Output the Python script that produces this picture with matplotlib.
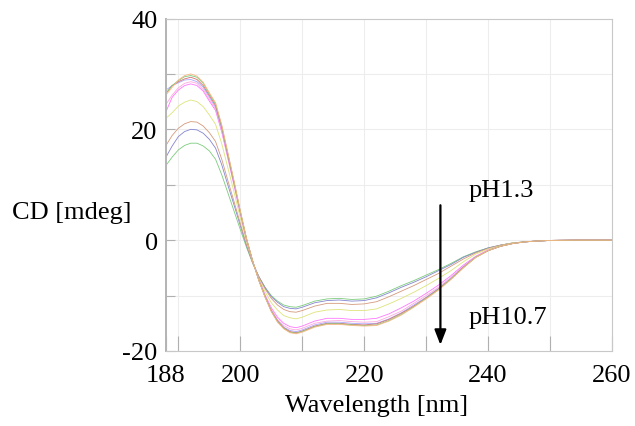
import matplotlib
matplotlib.use('Agg')
import matplotlib.pyplot as plt

plt.rcParams['font.family'] = ['Liberation Serif', 'DejaVu Serif']

# wavelength grid [nm]
wl = [188, 189, 190, 191, 192, 193, 194, 195, 196, 197, 198, 199, 200, 201, 202,
      203, 204, 205, 206, 207, 208, 209, 210, 212, 214, 216, 218, 220, 222, 224,
      226, 228, 230, 232, 234, 236, 238, 240, 242, 244, 246, 248, 250, 254, 260]

# CD [mdeg], pH 1.3 ... pH 10.7
cd_a = [13.5, 15.0, 16.3, 17.1, 17.5, 17.5, 17.0, 16.1, 14.6, 11.8, 8.5, 5.2, 1.9, -1.3, -4.2,
        -6.6, -8.5, -10.0, -11.0, -11.7, -12.0, -12.1, -11.8, -11.0, -10.6, -10.5, -10.7, -10.6, -10.1, -9.2,
        -8.2, -7.3, -6.3, -5.3, -4.2, -3.0, -2.1, -1.4, -0.9, -0.5, -0.3, -0.15, -0.05, 0.0, 0.0]
cd_b = [15.0, 17.0, 18.7, 19.6, 20.0, 19.9, 19.3, 18.2, 16.6, 13.6, 9.9, 6.3, 2.6, -1.0, -4.1,
        -6.6, -8.6, -10.2, -11.2, -12.0, -12.3, -12.4, -12.1, -11.3, -10.9, -10.8, -11.0, -10.9, -10.4, -9.5,
        -8.5, -7.6, -6.6, -5.5, -4.4, -3.1, -2.2, -1.4, -0.9, -0.5, -0.3, -0.15, -0.05, 0.0, 0.0]
cd_c = [17.1, 18.9, 20.2, 21.0, 21.4, 21.3, 20.6, 19.4, 17.8, 14.6, 10.7, 6.9, 3.0, -0.8, -4.1,
        -6.7, -8.8, -10.5, -11.7, -12.5, -12.9, -13.0, -12.7, -11.9, -11.4, -11.4, -11.6, -11.5, -11.1, -10.2,
        -9.2, -8.2, -7.1, -6.0, -4.7, -3.4, -2.3, -1.5, -0.9, -0.5, -0.3, -0.15, -0.05, 0.0, 0.0]
cd_d = [22.0, 23.0, 24.2, 24.9, 25.3, 25.0, 24.1, 22.6, 20.9, 17.4, 13.0, 8.6, 4.0, -0.3, -4.0,
        -6.9, -9.3, -11.3, -12.6, -13.6, -14.0, -14.2, -13.9, -13.0, -12.6, -12.5, -12.7, -12.7, -12.4, -11.5,
        -10.5, -9.4, -8.2, -6.9, -5.5, -3.9, -2.5, -1.6, -1.0, -0.5, -0.3, -0.15, -0.05, 0.0, 0.0]
cd_e = [23.2, 25.8, 27.1, 27.9, 28.2, 27.9, 26.9, 25.1, 23.4, 19.5, 14.7, 9.8, 4.8, 0.1, -3.9,
        -7.1, -9.9, -12.2, -13.9, -15.0, -15.6, -15.8, -15.5, -14.6, -14.1, -14.1, -14.3, -14.3, -14.1, -13.3,
        -12.2, -11.0, -9.6, -8.1, -6.4, -4.5, -2.9, -1.8, -1.1, -0.6, -0.3, -0.15, -0.05, 0.0, 0.0]
cd_f = [24.5, 26.2, 27.5, 28.3, 28.6, 28.3, 27.2, 25.4, 23.7, 19.8, 14.9, 10.0, 4.9, 0.1, -3.8,
        -7.2, -10.1, -12.5, -14.3, -15.4, -16.0, -16.2, -15.9, -15.0, -14.6, -14.5, -14.7, -14.8, -14.7, -13.8,
        -12.8, -11.4, -10.0, -8.5, -6.7, -4.7, -3.0, -1.8, -1.1, -0.6, -0.3, -0.15, -0.05, 0.0, 0.0]
cd_g = [27.1, 27.9, 28.4, 28.9, 29.0, 28.6, 27.6, 25.8, 24.0, 20.1, 15.1, 10.2, 5.0, 0.2, -3.8,
        -7.2, -10.2, -12.7, -14.5, -15.7, -16.3, -16.5, -16.2, -15.3, -14.8, -14.8, -15.0, -15.1, -15.0, -14.2,
        -13.1, -11.7, -10.3, -8.7, -6.9, -4.8, -3.0, -1.9, -1.1, -0.6, -0.3, -0.15, -0.05, 0.0, 0.0]
cd_h = [26.5, 27.9, 28.6, 29.1, 29.4, 29.0, 27.9, 26.1, 24.3, 20.4, 15.3, 10.3, 5.1, 0.2, -3.8,
        -7.3, -10.2, -12.8, -14.6, -15.8, -16.5, -16.7, -16.4, -15.5, -15.0, -15.0, -15.2, -15.3, -15.1, -14.3,
        -13.2, -11.9, -10.4, -8.8, -7.0, -4.9, -3.1, -1.9, -1.1, -0.6, -0.3, -0.15, -0.05, 0.0, 0.0]
cd_i = [26.5, 27.9, 28.8, 29.5, 29.7, 29.4, 28.3, 26.4, 24.6, 20.6, 15.6, 10.5, 5.2, 0.3, -3.8,
        -7.3, -10.3, -12.8, -14.7, -15.9, -16.6, -16.8, -16.5, -15.6, -15.1, -15.1, -15.3, -15.4, -15.3, -14.5,
        -13.4, -12.0, -10.5, -8.9, -7.0, -5.0, -3.1, -1.9, -1.1, -0.6, -0.3, -0.15, -0.05, 0.0, 0.0]
cd_j = [26.2, 27.6, 28.9, 29.7, 30.0, 29.6, 28.5, 26.6, 24.8, 20.8, 15.7, 10.6, 5.3, 0.3, -3.8,
        -7.3, -10.3, -12.9, -14.8, -16.0, -16.7, -16.9, -16.6, -15.7, -15.2, -15.2, -15.4, -15.5, -15.4, -14.6,
        -13.5, -12.1, -10.6, -9.0, -7.1, -5.0, -3.1, -1.9, -1.1, -0.6, -0.3, -0.15, -0.05, 0.0, 0.0]

series = [cd_a, cd_b, cd_c, cd_d, cd_e, cd_f, cd_g, cd_h, cd_i, cd_j]
colors = ['#7ccc7c', '#8585d0', '#d49a7c', '#dde47a', '#ff77ff',
          '#ffaadd', '#a8a8ff', '#d87070', '#77cc77', '#ffb482']

xticks = [188, 190, 200, 210, 220, 230, 240, 250, 260]
xticklabels = ['188', '', '200', '', '220', '', '240', '', '260']
yticks = [-20, -10, 0, 10, 20, 30, 40]
yticklabels = ['-20', '', '0', '', '20', '', '40']

fig = plt.figure(figsize=(6.35, 4.27), dpi=100)
ax = fig.add_axes([166 / 635, 1 - 352 / 427, (612 - 166) / 635, (352 - 19.5) / 427])

for ys, c in zip(series, colors):
    ax.plot(wl, ys, color=c, lw=0.6)

ax.set_xlim(188, 260)
ax.set_ylim(-20, 40)
ax.set_xticks(xticks)
ax.set_xticklabels(xticklabels)
ax.set_yticks(yticks)
ax.set_yticklabels(yticklabels)
ax.grid(True, color='#ededed', lw=0.8)
ax.set_axisbelow(True)
ax.tick_params(axis='x', direction='in', length=11, color='#b0b0b0', labelsize=19, pad=9)
ax.tick_params(axis='y', direction='in', length=6.5, color='#b0b0b0', labelsize=19, pad=6)
for s in ['top', 'right', 'bottom']:
    ax.spines[s].set_color('#c8c8c8')
    ax.spines[s].set_linewidth(0.8)
ax.spines['left'].set_color('#b4b4b4')
ax.spines['left'].set_linewidth(1.4)

ax.set_xlabel('Wavelength [nm]', fontsize=19)
ax.xaxis.set_label_coords((377 - 166) / (612 - 166), -0.13)
fig.text(12 / 635, 1 - 213 / 427, 'CD [mdeg]', fontsize=19, va='center', ha='left')

ax.annotate('', xy=(232.3, -19.4), xytext=(232.3, 6.8),
            arrowprops=dict(arrowstyle='-|>,head_width=0.35,head_length=0.9', color='black', lw=1.6))
ax.text(236.8, 9.0, 'pH1.3', fontsize=19, va='center', ha='left')
ax.text(236.8, -13.8, 'pH10.7', fontsize=19, va='center', ha='left')

# bits of a caption line above, cut off by the image edge (as in the source)
fig.text(57 / 635, 1.012, 'y', fontsize=19, va='baseline')
fig.text(296 / 635, 1.012, ',', fontsize=19, va='baseline')
fig.text(362 / 635, 1.012, 'gg', fontsize=19, va='baseline')

fig.savefig('out.png', dpi=100)
